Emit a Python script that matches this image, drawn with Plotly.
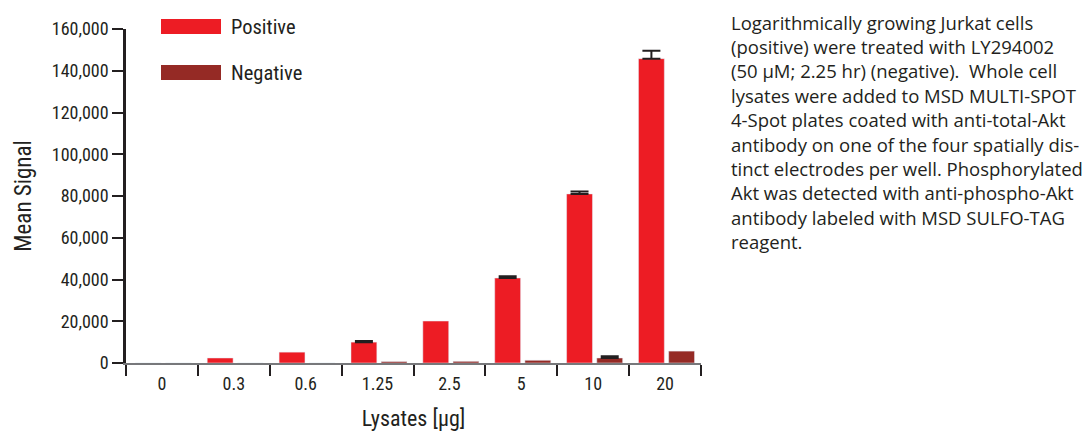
import numpy as np
import plotly.graph_objects as go

categories = ["0", "0.3", "0.6", "1.25", "2.5", "5", "10", "20"]
positive = [0, 2400, 5200, 10000, 20100, 40700, 81000, 145800]
positive_err = [None, None, None, 500, None, 800, 1200, 3800]
negative = [0, 0, 0, 700, 800, 1300, 2400, 5700]
negative_err = [None, None, None, None, None, None, 800, None]
y_ticks = [0, 20000, 40000, 60000, 80000, 100000, 120000, 140000, 160000]

caption_lines = [
    "Logarithmically growing Jurkat cells",
    "(positive) were treated with LY294002",
    "(50 µM; 2.25 hr) (negative).  Whole cell",
    "lysates were added to MSD MULTI-SPOT",
    "4-Spot plates coated with anti-total-Akt",
    "antibody on one of the four spatially dis-",
    "tinct electrodes per well. Phosphorylated",
    "Akt was detected with anti-phospho-Akt",
    "antibody labeled with MSD SULFO-TAG",
    "reagent.",
]

RED = "#ED1C24"
DARK_RED = "#952A25"
INK = "#231F20"
NARROW = "Roboto Condensed, DejaVu Sans Condensed, sans-serif"
BODY = "Open Sans, Noto Sans, sans-serif"


def err_up(err):
    # NaN (kept as NaN in the typed array) means "no error bar here"
    return np.array([np.nan if e is None else e for e in err], dtype=float)


def err_down(err):
    return np.array([np.nan if e is None else 0.0 for e in err], dtype=float)


fig = go.Figure()
fig.add_trace(go.Bar(
    x=categories, y=positive, name="Positive", marker_color=RED,
    width=0.36, offset=-0.37,
    error_y=dict(type="data", array=err_up(positive_err), arrayminus=err_down(positive_err),
                 color=INK, thickness=2, width=9, visible=True),
))
fig.add_trace(go.Bar(
    x=categories, y=negative, name="Negative", marker_color=DARK_RED,
    width=0.36, offset=0.05,
    error_y=dict(type="data", array=err_up(negative_err), arrayminus=err_down(negative_err),
                 color=INK, thickness=2, width=9, visible=True),
))

# page body has an 8px margin: figure sized/offset so the plot sits where the reference has it
fig.update_layout(
    width=1083, height=426,
    margin=dict(l=118, r=390, t=21, b=71, autoexpand=False),
    paper_bgcolor="white", plot_bgcolor="white",
    showlegend=False,
    font=dict(family=NARROW, color=INK, size=18),
)
fig.update_xaxes(
    type="category", range=[-0.5, 7.5],
    showline=True, linecolor="#77787B", linewidth=2,
    ticks="outside", tickson="boundaries", ticklen=11, tickwidth=2, tickcolor=INK,
    tickfont=dict(family=NARROW, size=18, color=INK), ticklabelstandoff=3,
    showgrid=False, zeroline=False,
    title=dict(text="Lysates [μg]", font=dict(family=NARROW, size=22, color=INK), standoff=18),
)
fig.update_yaxes(
    range=[0, 160000], tickvals=y_ticks, tickformat=",d",
    showline=True, linecolor=INK, linewidth=2.5,
    ticks="outside", ticklen=11, tickwidth=2, tickcolor=INK,
    tickfont=dict(family=NARROW, size=18, color=INK), ticklabelstandoff=0,
    showgrid=False, zeroline=False,
    title=dict(text="Mean Signal", font=dict(family=NARROW, size=23, color=INK), standoff=14),
)

# manual legend
legend_items = [("Positive", RED, 26.5), ("Negative", DARK_RED, 72.5)]
for name, color, yc in legend_items:
    fig.add_shape(type="rect", xref="paper", yref="paper",
                  x0=(161-126)/575, x1=(221-126)/575,
                  y0=(363-(yc+7.5))/334, y1=(363-(yc-7.5))/334,
                  fillcolor=color, line_width=0, layer="above")
    fig.add_annotation(xref="paper", yref="paper", x=(229-126)/575, y=(363-yc)/334,
                       text=name, showarrow=False, xanchor="left", yanchor="middle",
                       font=dict(family=NARROW, size=20.5, color=INK))

# caption
for i, line in enumerate(caption_lines):
    fig.add_annotation(xref="paper", yref="paper", x=(729-126)/575,
                       y=(363-(22+24.4*i))/334,
                       text=line, showarrow=False, xanchor="left", yanchor="middle",
                       font=dict(family=BODY, size=18.5, color=INK))

fig.write_html("out.html")
